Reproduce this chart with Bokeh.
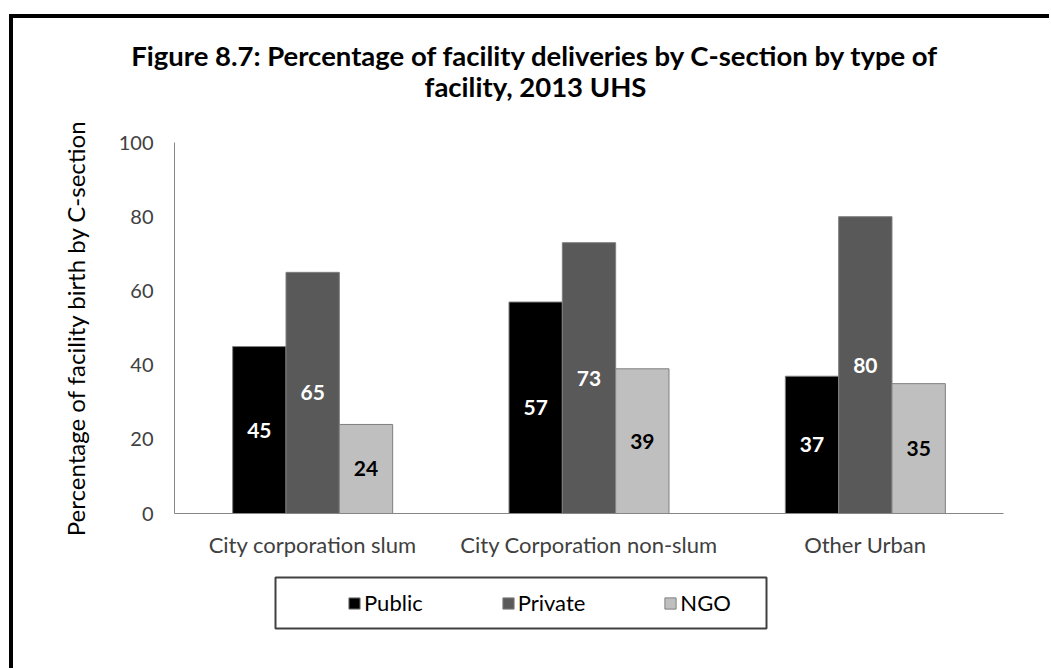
import numpy as np
from bokeh.plotting import figure
from bokeh.models import (ColumnDataSource, FactorRange, Range1d, Legend, LegendItem)
from bokeh.layouts import column, row
from bokeh.transform import dodge
from bokeh.core.properties import value
from bokeh.embed import file_html
from bokeh.resources import INLINE

categories = ["City corporation slum", "City Corporation non-slum", "Other Urban"]
series = ["Public", "Private", "NGO"]
public = [45, 57, 37]
private = [65, 73, 80]
ngo = [24, 39, 35]
y_ticks = [0, 20, 40, 60, 80, 100]
title_lines = ["Figure 8.7: Percentage of facility deliveries by C-section by type of",
               "facility, 2013 UHS"]
y_label = "Percentage of facility birth by C-section"

colors = ["#000000", "#595959", "#bfbfbf"]
label_colors = ["#ffffff", "#ffffff", "#000000"]
FONT = "Lato"
W = 1036


def bare(height, y_top):
    f = figure(width=W, height=height, x_range=Range1d(0, W), y_range=Range1d(y_top, 0),
               output_backend="svg", toolbar_location=None, title=None,
               x_axis_location=None, y_axis_location=None, min_border=0)
    f.outline_line_color = None
    f.xgrid.visible = False
    f.ygrid.visible = False
    return f


# ---------------- title strip ----------------
tfig = bare(100, 100)
tfig.text(x=[522, 522], y=[37, 68], text=title_lines, text_align="center",
          text_baseline="middle", text_font=value(FONT), text_font_style="bold",
          text_font_size="27.5px", text_color="#000000")

# ---------------- main chart ----------------
src = ColumnDataSource(dict(cat=categories, Public=public, Private=private, NGO=ngo,
                            Public_mid=[v / 2 for v in public],
                            Private_mid=[v / 2 for v in private],
                            NGO_mid=[v / 2 for v in ngo],
                            Public_txt=[str(v) for v in public],
                            Private_txt=[str(v) for v in private],
                            NGO_txt=[str(v) for v in ngo]))

p = figure(width=W, height=447, x_range=FactorRange(*categories, range_padding=0),
           y_range=Range1d(0, 100), output_backend="svg", toolbar_location=None,
           title=None, min_border_left=161, min_border_right=46, min_border_top=24,
           min_border_bottom=52)
p.outline_line_color = None
p.xgrid.grid_line_color = None
p.ygrid.grid_line_color = None

bw = 0.193
offsets = [-bw, 0.0, bw]
for s, c, lc, off in zip(series, colors, label_colors, offsets):
    p.vbar(x=dodge("cat", off, range=p.x_range), top=s, width=bw, source=src,
           fill_color=c, line_color="#7f7f7f", line_width=1)
    p.text(x=dodge("cat", off, range=p.x_range), y=s + "_mid", text=s + "_txt",
           source=src, text_align="center", text_baseline="middle",
           text_font=value(FONT), text_font_style="bold", text_font_size="21px",
           text_color=lc)

p.yaxis.ticker = y_ticks
p.yaxis.axis_line_color = "#868686"
p.yaxis.major_tick_line_color = None
p.yaxis.minor_tick_line_color = None
p.yaxis.major_tick_out = 0
p.yaxis.major_label_standoff = 21
p.yaxis.major_label_text_font = FONT
p.yaxis.major_label_text_font_size = "20px"
p.yaxis.major_label_text_color = "#404040"
p.yaxis.axis_label = y_label
p.yaxis.axis_label_text_font = FONT
p.yaxis.axis_label_text_font_size = "24px"
p.yaxis.axis_label_text_font_style = "normal"
p.yaxis.axis_label_text_color = "#000000"
p.yaxis.axis_label_standoff = 26

p.xaxis.axis_line_color = "#868686"
p.xaxis.major_tick_line_color = None
p.xaxis.minor_tick_line_color = None
p.xaxis.major_tick_out = 0
p.xaxis.major_label_standoff = 17
p.xaxis.major_label_text_font = FONT
p.xaxis.major_label_text_font_size = "22px"
p.xaxis.major_label_text_color = "#404040"

# ---------------- legend strip ----------------
lfig = bare(103, 103)
lfig.quad(left=[262], right=[753], top=[12], bottom=[63], fill_color="white",
          line_color="#404040", line_width=2)
nan = np.array([np.nan])
dummies = [lfig.vbar(x=nan, top=nan, bottom=nan, width=1, fill_color=c,
                     line_color="#7f7f7f")
           for c in colors]
legend = Legend(items=[LegendItem(label=s, renderers=[r]) for s, r in zip(series, dummies)],
                orientation="horizontal", location=(334, 52), padding=0, margin=0,
                spacing=78, glyph_width=14, glyph_height=14, label_standoff=3,
                label_text_font=FONT, label_text_font_size="22px",
                label_text_color="#000000", border_line_color=None,
                background_fill_alpha=0)
lfig.add_layout(legend)

layout = column(row(tfig), p, row(lfig), spacing=0)
layout.styles = {"border-top": "4px solid black", "border-left": "4px solid black",
                 "margin-left": "9px", "margin-top": "14px"}

open("out.html", "w").write(file_html(layout, INLINE))
